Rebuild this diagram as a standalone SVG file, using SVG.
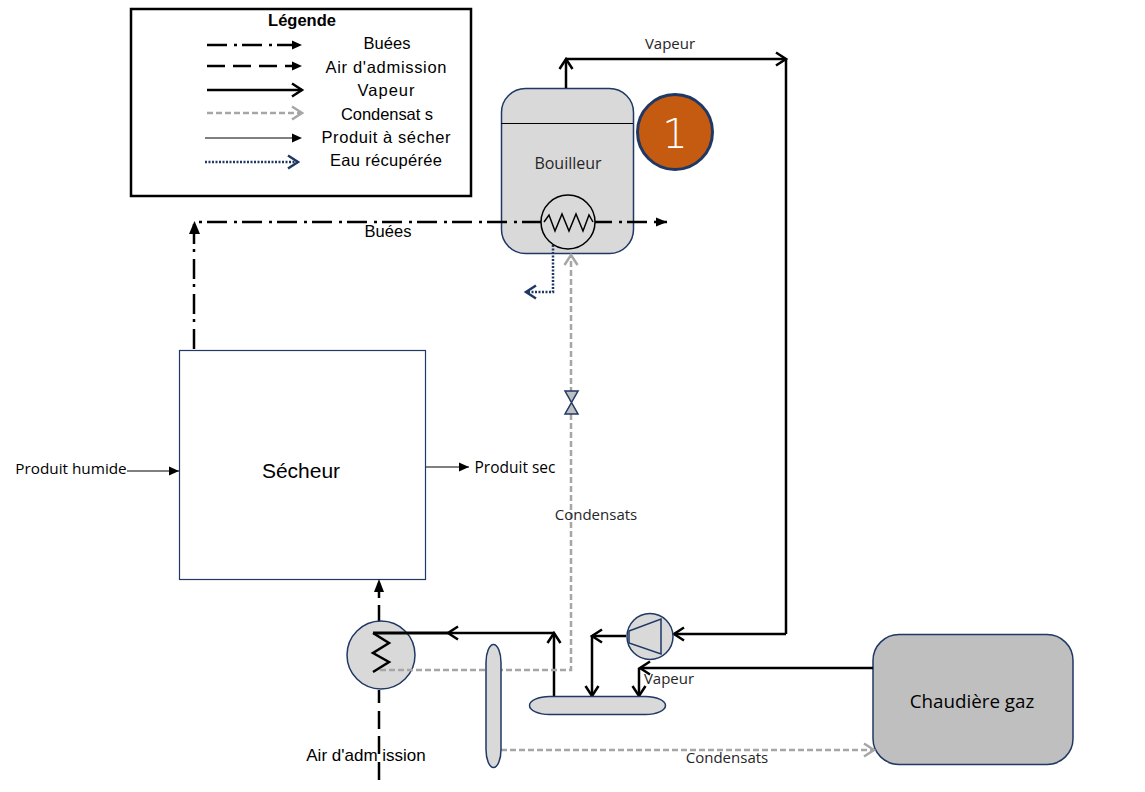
<svg xmlns="http://www.w3.org/2000/svg" width="1145" height="792" viewBox="0 0 1145 792">
<defs>
<marker id="vb" markerUnits="userSpaceOnUse" markerWidth="16" markerHeight="16" refX="12" refY="8" orient="auto"><path d="M2 1.500L12 8L2 14.500" fill="none" stroke="#000" stroke-width="2.500"/></marker>
<marker id="vg" markerUnits="userSpaceOnUse" markerWidth="16" markerHeight="16" refX="12" refY="8" orient="auto"><path d="M2 1.500L12 8L2 14.500" fill="none" stroke="#a6a6a6" stroke-width="2.500"/></marker>
<marker id="vn" markerUnits="userSpaceOnUse" markerWidth="16" markerHeight="16" refX="12" refY="8" orient="auto"><path d="M2 1.500L12 8L2 14.500" fill="none" stroke="#1f3864" stroke-width="2.500"/></marker>
<marker id="tb" markerUnits="userSpaceOnUse" markerWidth="12" markerHeight="12" refX="10" refY="6" orient="auto"><path d="M0 1.500L10 6L0 10.500Z" fill="#000"/></marker>
</defs>
<style>
.eq{fill:#d9d9d9;stroke:#1f3864;stroke-width:1.500}
.c{fill:none}
.v{stroke:#000;stroke-width:2.500;marker-end:url(#vb)}
.vp{stroke:#000;stroke-width:2.500}
.bu{stroke:#000;stroke-width:2.500;stroke-dasharray:20 7 3 5}
.ai{stroke:#000;stroke-width:2.500;stroke-dasharray:18 8}
.co{stroke:#a6a6a6;stroke-width:2.500;stroke-dasharray:6 3}
.ea{stroke:#1f3864;stroke-width:2.500;stroke-dasharray:2 1.500}
.pr{stroke:#000;stroke-width:1}
.ar{font-family:"Liberation Sans",Arial,sans-serif;font-size:16.500px;fill:#000;text-anchor:middle}
.op{font-family:"Open Sans","Noto Sans",sans-serif;font-size:15px;fill:#262626;text-anchor:middle}
</style>
<g id="legende">
<rect x="131" y="9" width="340" height="187" fill="#fff" stroke="#000" stroke-width="2.500"/>
<text class="ar" x="302" y="26" font-weight="bold">Légende</text>
<path class="c bu" d="M207 45H292"/><path d="M292 40.500L302 45L292 49.500Z"/>
<path class="c ai" d="M207 66H292"/><path d="M292 61.500L302 66L292 70.500Z"/>
<path class="c v" d="M207 90H302"/>
<path class="c co" d="M207 113H302" marker-end="url(#vg)"/>
<path class="c pr" d="M205 138H292"/><path d="M292 133.500L302 138L292 142.500Z"/>
<path class="c ea" d="M205 162H298" marker-end="url(#vn)"/>
<text class="ar" x="387" y="49" textLength="47" lengthAdjust="spacing">Buées</text>
<text class="ar" x="386" y="73" textLength="121" lengthAdjust="spacing">Air d'admission</text>
<text class="ar" x="386" y="96" textLength="57" lengthAdjust="spacing">Vapeur</text>
<text class="ar" x="387" y="120" textLength="92" lengthAdjust="spacing">Condensat s</text>
<text class="ar" x="386" y="143" textLength="129" lengthAdjust="spacing">Produit à sécher</text>
<text class="ar" x="386" y="166" textLength="112" lengthAdjust="spacing">Eau récupérée</text>
</g>
<g id="bouilleur">
<rect class="eq" x="501.500" y="88.500" width="132" height="165" rx="24"/>
<path d="M501 123.500H633" stroke="#000" stroke-width="1" fill="none"/>
<text class="op" x="568" y="169" style="font-size:16px">Bouilleur</text>
</g>
<g id="badge">
<circle cx="675" cy="132" r="37.500" fill="#c55a11" stroke="#1f3864" stroke-width="3"/>
<text x="675" y="148" font-family="DejaVu Sans,sans-serif" font-weight="200" font-size="40" fill="#fff" text-anchor="middle">1</text>
</g>
<g id="secheur">
<rect x="179.500" y="350.500" width="246" height="229" fill="#fff" stroke="#1f3864" stroke-width="1.200"/>
<text x="301" y="478" font-family="Liberation Sans,Arial,sans-serif" font-size="21" fill="#000" text-anchor="middle">Sécheur</text>
</g>
<g id="chaudiere">
<rect class="eq" x="873" y="634.500" width="200" height="130" rx="26" style="fill:#bfbfbf"/>
<text class="op" x="972" y="708" style="font-size:18.800px;fill:#000">Chaudière gaz</text>
</g>
<g id="echangeur-air">
<path class="c ai" d="M379 780V735"/>
<path class="c ai" d="M379 729V690"/>
<path class="c ai" d="M379 622V605"/>
<path class="c ai" d="M379 598V588"/>
<circle class="eq" cx="381" cy="655" r="34"/>
<path d="M373 633L389 643L373 653L389 662L373 672" fill="none" stroke="#000" stroke-width="2.500"/>
</g>
<g id="connecteurs">
<path class="c bu" d="M194 349V222H667" />
<path d="M189 234L194.500 221L200 234Z"/>
<path d="M656 217.500L667 222L656 226.500Z"/>
<path class="c v" d="M566 88V59"/>
<path class="c v" d="M566 59H786"/>
<path class="c vp" d="M786 59V634"/>
<path class="c v" d="M786 634H674"/>
<path class="c v" d="M626 636H592"/>
<path class="c v" d="M592 636V696"/>
<path class="c v" d="M873 668H640"/>
<path class="c v" d="M639 668V696"/>
<path class="c v" d="M554 696V633"/>
<path class="c v" d="M554 633H448"/>
<path class="c vp" d="M448 633H373" style="stroke-width:3"/>
<path class="c co" d="M380 670H571V255" marker-end="url(#vg)"/>
<path class="c co" d="M501 750H874" marker-end="url(#vg)"/>
<path class="c ea" d="M553 245V292H526" marker-end="url(#vn)"/>
<path d="M374 592L379 579L384 592Z"/>
<path class="c pr" d="M127 471H179" marker-end="url(#tb)"/>
<path class="c pr" d="M426 467H469" marker-end="url(#tb)"/>
</g>
<g id="echangeur-bouilleur">
<circle cx="568" cy="222" r="27" fill="#d9d9d9" stroke="#000" stroke-width="1.500"/>
<path d="M544 222L549 215L555 231L562 214L569 231L576 214L583 231L589 215L593 222" fill="none" stroke="#000" stroke-width="1.500"/>
</g>
<g id="vanne">
<path d="M565 391H578L565 414H578Z" class="eq" style="fill:#bfbfbf"/>
</g>
<g id="compresseur">
<circle class="eq" cx="650" cy="636.500" r="23"/>
<path d="M629 631L661 619V654L629 643Z" fill="none" stroke="#1f3864" stroke-width="1.500"/>
</g>
<g id="ballon"><rect class="eq" x="529.500" y="696.500" width="136" height="18" rx="20" ry="9"/></g>
<g id="condenseur"><rect class="eq" x="486" y="644.500" width="15" height="123" rx="7.500" ry="18"/></g>
<g id="labels">
<text class="op" x="670" y="49">Vapeur</text>
<text class="op" x="669" y="684">Vapeur</text>
<text class="op" x="596" y="520">Condensats</text>
<text class="op" x="727" y="763">Condensats</text>
<text class="ar" x="388" y="237">Buées</text>
<text class="ar" x="366" y="761" style="font-size:17px">Air d'adm ission</text>
<text class="op" x="71" y="474" style="font-size:15.300px;fill:#000">Produit humide</text>
<text class="op" x="515" y="473" style="font-size:15.500px;fill:#000">Produit sec</text>
</g>
</svg>
